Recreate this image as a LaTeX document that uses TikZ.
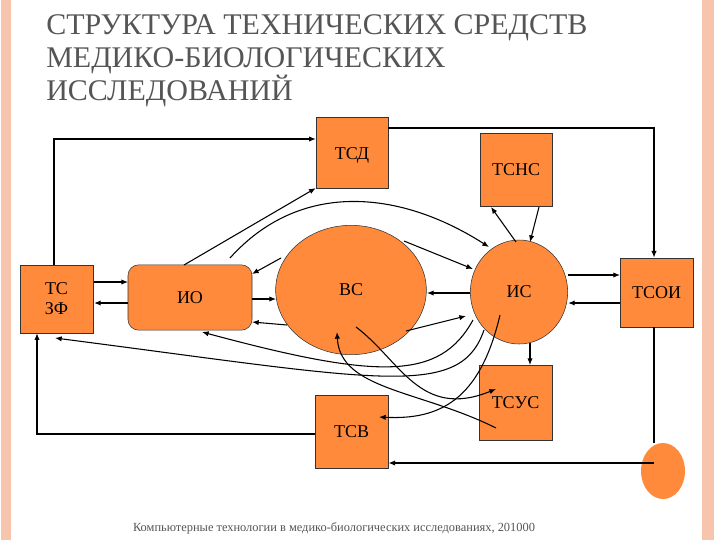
\documentclass[tikz,border=0pt]{standalone}
\usepackage{fontspec}
\setmainfont{Liberation Serif}
\usetikzlibrary{arrows.meta,shapes.geometric}
\definecolor{org}{HTML}{FF8A3C}
\definecolor{pinkf}{HTML}{F7C4AE}
\definecolor{ttl}{HTML}{555555}
\begin{document}
\begin{tikzpicture}[x=0.75pt,y=-0.75pt,
  box/.style={draw=black!80,fill=org,inner sep=0pt,font=\fontsize{13.5}{15}\selectfont},
  ell/.style={ellipse,draw=black!80,fill=org,inner sep=0pt,font=\fontsize{13.5}{15}\selectfont},
  ar/.style={-{Latex[length=5pt,width=4pt]},line width=0.8pt},
  tk/.style={-{Latex[length=5pt,width=4pt]},line width=1.6pt},
  ln/.style={line width=0.8pt}]
\useasboundingbox (0,0) rectangle (720,540);
\fill[white] (0,0) rectangle (720,540);
\fill[pinkf] (1,0) rectangle (11,540);
\fill[pinkf] (702,0) rectangle (714,540);
\node[anchor=north west,align=left,text=ttl,inner sep=0pt,font=\fontsize{22.5}{25}\selectfont] (title) at (46,14)
 {СТРУКТУРА ТЕХНИЧЕСКИХ СРЕДСТВ\\МЕДИКО-БИОЛОГИЧЕСКИХ\\ИССЛЕДОВАНИЙ};
\node[box,minimum width=54pt,minimum height=53pt] (tsd) at (352,152.5) {};
\node at (352,155) [font=\fontsize{13.5}{15}\selectfont] (tsdt) {ТСД};
\node[box,minimum width=54pt,minimum height=55pt] (tsns) at (516,170) {ТСНС};
\node[box,minimum width=55pt,minimum height=51pt,align=center] (tszf) at (56.5,299) {ТС\\ЗФ};
\node[box,rounded corners=8pt,minimum width=93pt,minimum height=49pt] (io) at (190,297.5) {ИО};
\node[ell,minimum width=113pt,minimum height=97pt] (vs) at (351,290) {};
\node at (351,290) (vst) [font=\fontsize{13.5}{15}\selectfont] {ВС};
\node[ell,minimum width=73pt,minimum height=78pt] (is) at (519,292) {ИС};
\node[box,minimum width=55pt,minimum height=52pt] (tsoi) at (656.5,292.5) {ТСОИ};
\node[box,minimum width=55pt,minimum height=56pt] (tsus) at (515.5,402.5) {ТСУС};
\node[box,minimum width=55pt,minimum height=55pt] (tsv) at (351.5,431.5) {ТСВ};
\node[ellipse,fill=org,minimum width=33pt,minimum height=42pt] (dot) at (663,471) {};
\node[text=ttl,font=\fontsize{9.3}{11}\selectfont] (foot) at (334,528) {Компьютерные технологии в медико-биологических исследованиях, 201000};
\coordinate (a1) at (54,139);
\coordinate (b1) at (654,128);
\coordinate (c1) at (37,434);
\coordinate (d1) at (654,463);
\draw[ar] (tszf.north -| a1) -- (a1) -- (tsd.west |- a1);
\draw[ar] (tsd.east |- b1) -- (b1) -- (tsoi.north -| b1);
\draw[ar] (tsv.west |- c1) -- (c1) -- (tszf.south -| c1);
\draw[ln] (tsoi.south -| b1) -- (dot.north -| b1);
\draw[tk] (d1) -- (tsv.east |- d1);
\draw[ar] (184,265) -- (tsd.south west);
\draw[ar] (94,282) -- (128,282);
\draw[tk] (128,303) -- (94,303);
\draw[ar] (252,299) -- (276,299);
\draw[ar] (470,293) -- (427,293);
\draw[ar] (568,275) -- (620,275);
\draw[tk] (620,303) -- (568,303);
\draw[ar] (404,241) -- (473,269);
\draw[ar] (281,258) -- (252,274);
\draw[ar] (287,325) -- (252,322);
\draw[ar] (406,331) -- (466,316);
\draw[ar] (516,242) -- (491,207);
\draw[ar] (539,207) -- (530,242);
\draw[ar] (530,343) -- (530,365);
\draw[ar] (230,258) .. controls (300,180) and (400,190) .. (489,247);
\draw[ar] (473,320) .. controls (440,380) and (380,380) .. (202,332);
\draw[ar] (484,330) .. controls (460,400) and (380,380) .. (55,338);
\draw[ar] (356,327) .. controls (400,360) and (420,420) .. (496,389);
\draw[ar] (496,428) .. controls (420,390) and (340,390) .. (337,332);
\draw[ar] (500,315) .. controls (480,400) and (440,420) .. (379,417);
\end{tikzpicture}
\end{document}
